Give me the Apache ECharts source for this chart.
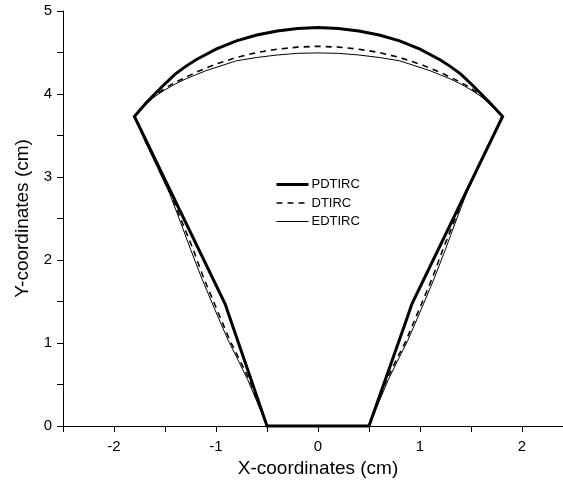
<!DOCTYPE html>
<html>
<head>
<meta charset="utf-8">
<script src="https://cdn.jsdelivr.net/npm/echarts@6/dist/echarts.min.js"></script>
<style>
  html, body { margin: 0; padding: 0; background: #fff; }
  #chart { width: 563px; height: 489px; }
</style>
</head>
<body>
<div id="chart"></div>
<script>
// Concentrator profiles (cm): bottom aperture, left side, top arc, right side

const seriesNames = ['PDTIRC', 'DTIRC', 'EDTIRC'];
const xTickLabels = [-2, -1, 0, 1, 2];
const yTickLabels = [0, 1, 2, 3, 4, 5];

const bottomEdge = [[0.5, 0], [-0.5, 0]];

// PDTIRC
const pdLeft = [[-0.5, 0], [-0.86, 1.29], [-0.91, 1.47], [-1.80, 3.73]];
const pdArc = [[-1.80, 3.73], [-1.68, 3.90], [-1.52, 4.10], [-1.40, 4.24], [-1.30, 4.33], [-1.20, 4.41],
  [-1.00, 4.54], [-0.80, 4.64], [-0.60, 4.71], [-0.40, 4.76], [-0.20, 4.79], [0, 4.80],
  [0.20, 4.79], [0.40, 4.76], [0.60, 4.71], [0.80, 4.64], [1.00, 4.54], [1.20, 4.41],
  [1.30, 4.33], [1.40, 4.24], [1.52, 4.10], [1.68, 3.90], [1.81, 3.73]];
const pdRight = [[1.81, 3.73], [0.92, 1.47], [0.87, 1.29], [0.5, 0]];

// DTIRC
const dLeft = [[-0.5, 0], [-0.58, 0.25], [-0.67, 0.55], [-0.77, 0.80], [-0.86, 1.02], [-0.99, 1.40],
  [-1.12, 1.78], [-1.225, 2.13], [-1.34, 2.48], [-1.445, 2.80], [-1.575, 3.13], [-1.69, 3.43], [-1.80, 3.73]];
const dArc = [[-1.80, 3.73], [-1.70, 3.87], [-1.60, 3.98], [-1.50, 4.07], [-1.40, 4.14], [-1.30, 4.20],
  [-1.20, 4.26], [-1.10, 4.31], [-1.00, 4.36], [-0.80, 4.44], [-0.60, 4.50], [-0.40, 4.54],
  [-0.20, 4.565], [0, 4.575], [0.20, 4.565], [0.40, 4.54], [0.60, 4.50], [0.80, 4.44],
  [1.00, 4.36], [1.10, 4.31], [1.20, 4.26], [1.30, 4.20], [1.40, 4.14], [1.50, 4.07],
  [1.60, 3.98], [1.70, 3.87], [1.81, 3.73]];
const dRight = [[1.81, 3.73], [1.69, 3.43], [1.575, 3.13], [1.445, 2.80], [1.34, 2.48], [1.225, 2.13],
  [1.12, 1.78], [0.99, 1.40], [0.86, 1.02], [0.77, 0.80], [0.67, 0.55], [0.58, 0.25], [0.5, 0]];

// EDTIRC
const eLeft = [[-0.5, 0], [-0.59, 0.27], [-0.69, 0.56], [-0.79, 0.81], [-0.88, 1.03], [-1.01, 1.40],
  [-1.14, 1.78], [-1.25, 2.13], [-1.355, 2.48], [-1.455, 2.80], [-1.58, 3.13], [-1.695, 3.43], [-1.80, 3.73]];
const eArc = [[-1.80, 3.73], [-1.70, 3.86], [-1.60, 3.97], [-1.50, 4.05], [-1.40, 4.12], [-1.30, 4.18],
  [-1.20, 4.23], [-1.10, 4.28], [-1.00, 4.32], [-0.80, 4.40], [-0.60, 4.44], [-0.40, 4.47],
  [-0.20, 4.49], [0, 4.495], [0.20, 4.49], [0.40, 4.47], [0.60, 4.44], [0.80, 4.40],
  [1.00, 4.32], [1.10, 4.28], [1.20, 4.23], [1.30, 4.18], [1.40, 4.12], [1.50, 4.05],
  [1.60, 3.97], [1.70, 3.86], [1.81, 3.73]];
const eRight = [[1.81, 3.73], [1.695, 3.43], [1.58, 3.13], [1.455, 2.80], [1.355, 2.48], [1.25, 2.13],
  [1.14, 1.78], [1.01, 1.40], [0.88, 1.03], [0.79, 0.81], [0.69, 0.56], [0.59, 0.27], [0.5, 0]];

const FONT = "'Liberation Sans', Arial, sans-serif";

function outline(left, arc, right) {
  return [].concat(bottomEdge, left, arc, right);
}

const chart = echarts.init(document.getElementById('chart'), null, { renderer: 'canvas' });

const axisCommon = {
  axisLine: { show: true, onZero: false, lineStyle: { color: '#000', width: 1 } },
  axisTick: { show: true, inside: false, length: 6, lineStyle: { color: '#000', width: 1 } },
  splitLine: { show: false },
  nameTextStyle: { color: '#000', fontFamily: FONT, fontSize: 19 }
};

chart.setOption({
  animation: false,
  backgroundColor: '#fff',
  // plot area runs past the right edge of the canvas (x up to 2.5)
  grid: { left: 63, right: -10, top: 11, bottom: 63, containLabel: false, outerBoundsMode: 'none' },
  xAxis: Object.assign({}, axisCommon, {
    type: 'value', min: -2.5, max: 2.5, interval: 0.5,
    name: 'X-coordinates (cm)', nameLocation: 'middle', nameGap: 32,
    axisLabel: {
      color: '#000', fontFamily: FONT, fontSize: 15, margin: 13,
      formatter: v => (xTickLabels.indexOf(v) >= 0 ? String(v) : '')
    }
  }),
  yAxis: Object.assign({}, axisCommon, {
    type: 'value', min: 0, max: 5, interval: 0.5,
    name: 'Y-coordinates (cm)', nameLocation: 'middle', nameGap: 28,
    axisLabel: {
      color: '#000', fontFamily: FONT, fontSize: 15, margin: 11,
      formatter: v => (yTickLabels.indexOf(v) >= 0 ? String(v) : '')
    }
  }),
  legend: {
    data: seriesNames,
    orient: 'vertical',
    left: 275, top: 178, padding: 0,
    itemWidth: 32, itemHeight: 14, itemGap: 5.5,
    textStyle: { color: '#000', fontFamily: FONT, fontSize: 13, padding: [0, 0, 0, -2] },
    itemStyle: { opacity: 0 },
    lineStyle: { width: 'inherit' },
    selectedMode: false
  },
  series: [
    {
      name: 'EDTIRC', type: 'line', symbol: 'none', showSymbol: false, clip: false,
      data: outline(eLeft, eArc, eRight),
      itemStyle: { color: '#000' },
      lineStyle: { color: '#000', width: 1, type: 'solid' }, z: 2
    },
    {
      name: 'DTIRC', type: 'line', symbol: 'none', showSymbol: false, clip: false,
      data: outline(dLeft, dArc, dRight),
      itemStyle: { color: '#000' },
      lineStyle: { color: '#000', width: 1.6, type: [6, 5] }, z: 3
    },
    {
      name: 'PDTIRC', type: 'line', symbol: 'none', showSymbol: false, clip: false,
      data: outline(pdLeft, pdArc, pdRight),
      itemStyle: { color: '#000' },
      lineStyle: { color: '#000', width: 3, type: 'solid', join: 'miter' }, z: 4
    }
  ]
});
</script>
</body>
</html>
